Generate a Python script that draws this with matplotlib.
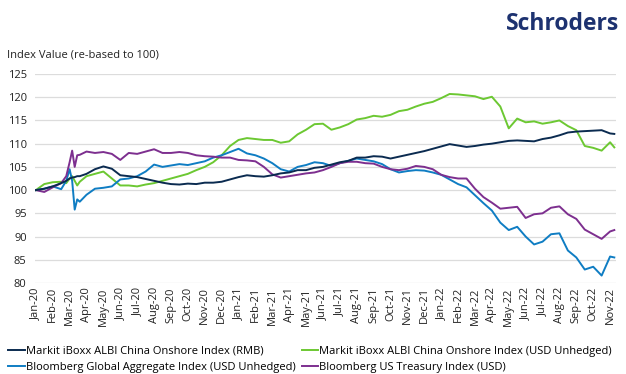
import matplotlib
matplotlib.use("Agg")
import matplotlib.pyplot as plt
import pandas as pd

# month offset from Jan-2020
months = [0, 0.5, 1, 1.5, 1.8, 2.0, 2.15, 2.3, 2.45, 2.6,
          3, 3.5, 4, 4.5, 5, 5.5, 6, 6.5, 7, 7.5, 8, 8.5, 9, 9.5, 10, 10.5,
          11, 11.5, 12, 12.5, 13, 13.5, 14, 14.5, 15, 15.5, 16, 16.5, 17, 17.5,
          18, 18.5, 19, 19.5, 20, 20.5, 21, 21.5, 22, 22.5, 23, 23.5, 24, 24.5,
          25, 25.5, 26, 26.5, 27, 27.5, 28, 28.5, 29, 29.5, 30, 30.5, 31, 31.5,
          32, 32.5, 33, 33.5, 34, 34.25]

albi_rmb = [100, 100.3, 100.8, 101.5, 102, 102.5, 102.7, 102.8, 103, 103,
            103.5, 104.5, 105.1, 104.6, 103.2, 103, 102.8, 102.4, 102, 101.6, 101.3, 101.2, 101.4, 101.3, 101.6, 101.6,
            101.8, 102.3, 102.8, 103.2, 103, 102.9, 103.2, 103.6, 103.8, 104.3, 104.3, 104.8, 105, 105.5,
            106, 106.3, 107, 107, 107.3, 107.2, 106.8, 107.2, 107.6, 108, 108.4, 108.9, 109.4, 109.9,
            109.6, 109.3, 109.5, 109.8, 110, 110.3, 110.6, 110.7, 110.6, 110.5, 111, 111.3, 111.8, 112.4,
            112.6, 112.7, 112.8, 112.9, 112.2, 112.1]

albi_usd = [100, 101.3, 101.7, 101.8, 101.5, 102.5, 103, 102, 101, 101.8,
            103, 103.5, 104, 102.5, 101, 101, 100.8, 101.2, 101.5, 102, 102.5, 103, 103.5, 104.3, 105, 106,
            107.5, 109.5, 110.8, 111.2, 111, 110.8, 110.8, 110.2, 110.5, 112, 113, 114.2, 114.3, 113,
            113.5, 114.2, 115.2, 115.5, 116, 115.8, 116.2, 117, 117.3, 118, 118.6, 119, 119.8, 120.7,
            120.6, 120.4, 120.2, 119.6, 120.1, 118, 113.3, 115.4, 114.6, 114.8, 114.3, 114.6, 115, 113.8,
            112.9, 109.5, 109.1, 108.5, 110.3, 109.2]

global_agg = [100, 100.3, 100.8, 100.2, 102, 104.5, 102, 95.8, 98, 97.5,
              99, 100.3, 100.5, 100.8, 102.3, 102.5, 103, 104, 105.5, 105, 105.3, 105.6, 105.4, 105.8, 106.2, 107,
              107.5, 108.2, 108.9, 107.9, 107.5, 106.8, 105.8, 104.5, 104, 105, 105.4, 106, 105.8, 105.2,
              105.8, 106.3, 106.8, 106.5, 106.2, 105.6, 104.5, 103.8, 104.1, 104.3, 104.2, 103.8, 103.3, 102.3,
              101.3, 100.6, 98.9, 97.2, 95.6, 93, 91.4, 92.1, 90, 88.3, 88.9, 90.5, 90.7, 87,
              85.5, 82.9, 83.5, 81.6, 85.7, 85.5]

us_treasury = [100, 99.6, 100.6, 101.5, 103, 106, 108.5, 105, 107.5, 107.6,
               108.3, 108, 108.2, 107.8, 106.5, 108, 107.8, 108.3, 108.8, 108, 108, 108.2, 108, 107.5, 107.3, 107.2,
               107, 107, 106.5, 106.4, 106.2, 105, 103.4, 102.7, 103, 103.3, 103.6, 103.8, 104.3, 105,
               105.8, 106.1, 106.1, 105.8, 105.7, 105, 104.5, 104.3, 104.6, 105.2, 105, 104.5, 103.3, 102.8,
               102.5, 102.5, 100.3, 98.5, 97.3, 96, 96.2, 96.4, 94, 94.8, 95, 96.2, 96.5, 94.8,
               93.8, 91.5, 90.5, 89.5, 91.1, 91.4]

tick_labels = [d.strftime("%b-%y") for d in pd.date_range("2020-01-01", "2022-11-01", freq="MS")]
y_ticks = [80, 85, 90, 95, 100, 105, 110, 115, 120, 125]

series_names = ["Markit iBoxx ALBI China Onshore Index (RMB)",
                "Markit iBoxx ALBI China Onshore Index (USD Unhedged)",
                "Bloomberg Global Aggregate Index (USD Unhedged)",
                "Bloomberg US Treasury Index (USD)"]
colors = ["#0b2b50", "#6cc832", "#0f7dc3", "#7d2f8f"]

plt.rcParams['font.family'] = ['Open Sans', 'DejaVu Sans']

fig = plt.figure(figsize=(6.26, 3.74), dpi=100)
ax = fig.add_axes([35 / 626, 1 - 283 / 374, 581 / 626, 209 / 374])

data = [albi_rmb, albi_usd, global_agg, us_treasury]
handles = {}
for idx in [1, 2, 3, 0]:
    h, = ax.plot(months, data[idx], color=colors[idx], lw=1.4, label=series_names[idx])
    handles[idx] = h

ax.set_xlim(-0.05, 34.35)
ax.set_ylim(80, 125)
ax.set_yticks(y_ticks)
ax.set_xticks(range(len(tick_labels)))
ax.set_xticklabels(tick_labels, rotation=90, fontsize=8, color="#222222")
ax.tick_params(axis='y', labelsize=8, labelcolor="#222222", length=0, pad=6)
ax.tick_params(axis='x', length=0, pad=3)
ax.grid(axis='y', color="#dcdcdc", lw=0.9)
ax.set_axisbelow(True)
for s in ax.spines.values():
    s.set_visible(False)

fig.text(7 / 626, 1 - 55 / 374, "Index Value (re-based to 100)", fontsize=8,
         color="#222222", va='center', ha='left')
fig.text(619 / 626, 1 - 24 / 374, "Schroders", fontsize=16.5, fontweight='bold',
         color="#1d3270", ha='right', va='center')

# column-wise fill: col1 = RMB, Global Agg ; col2 = USD Unhedged, US Treasury
order_idx = [0, 2, 1, 3]
leg = fig.legend([handles[i] for i in order_idx], [series_names[i] for i in order_idx], ncol=2,
                 loc='lower left', bbox_to_anchor=(4 / 626, -0.008), frameon=False,
                 fontsize=8, handlelength=1.45, handletextpad=0.1,
                 columnspacing=0.6, labelspacing=0.45, borderaxespad=0.0)

fig.savefig("out.png", dpi=100)
